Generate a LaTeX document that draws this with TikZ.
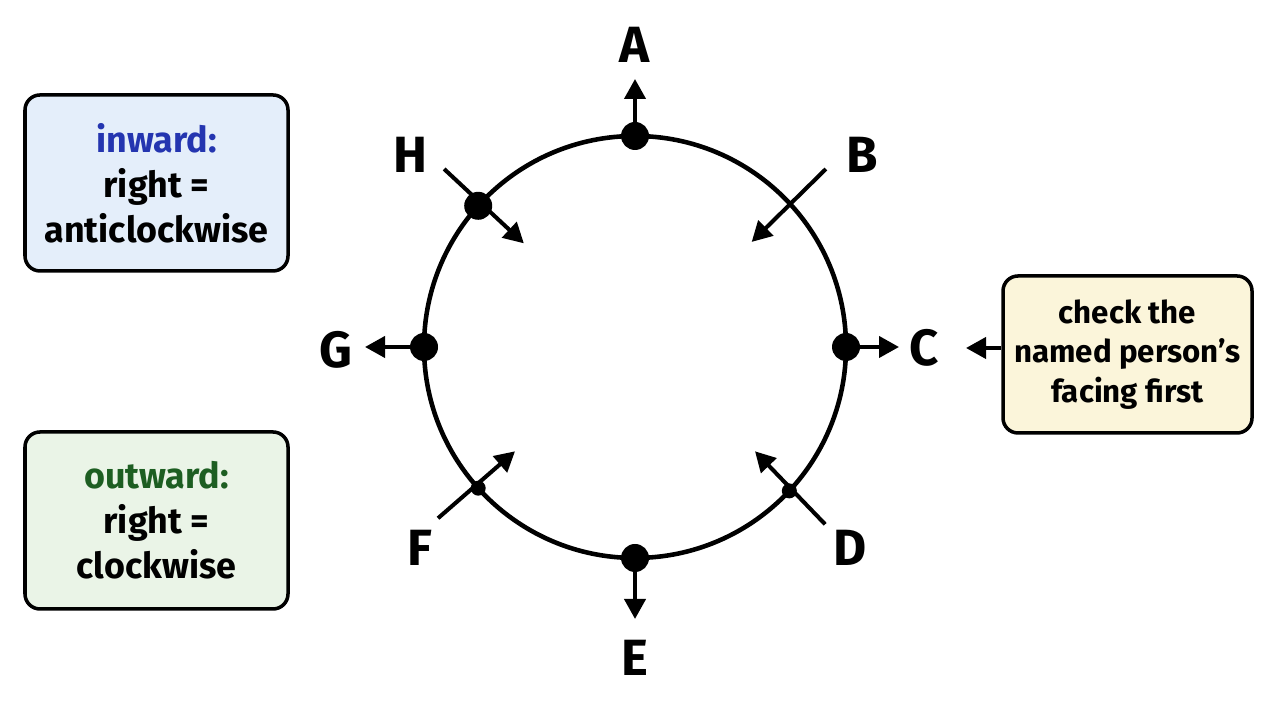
\documentclass[tikz,border=0pt]{standalone}
\usepackage{fontspec}
\setmainfont{Fira Sans}
\usetikzlibrary{arrows.meta}

\definecolor{inblue}{HTML}{2435B0}
\definecolor{outgreen}{HTML}{1D5E22}
\definecolor{boxblue}{HTML}{E4EEFA}
\definecolor{boxgreen}{HTML}{EAF4E7}
\definecolor{boxyellow}{HTML}{FBF5DA}

\begin{document}
\begin{tikzpicture}[
	arr/.style={-{Triangle[length=0.2cm,width=0.21cm]}, line width=1.15pt},
	bigdot/.style={circle, fill=black, inner sep=0pt, minimum size=0.28cm},
	smalldot/.style={circle, fill=black, inner sep=0pt, minimum size=0.15cm},
	lbl/.style={font=\fontsize{14.5}{16}\selectfont\bfseries},
	note/.style={draw, line width=1pt, rounded corners=0.15cm, align=center, inner sep=0pt, font=\fontsize{10.2}{12.8}\selectfont\bfseries}
	]
	\useasboundingbox (0,0) rectangle (12.8,7.2);
	\coordinate (O) at (6.35,3.73);
	\draw[line width=1.3pt] (O) circle (2.11);
	% people round the table
	\node[bigdot] (pA) at ([shift={(90:2.11)}]O) {};
	\coordinate (pB) at ([shift={(45:2.11)}]O);
	\node[bigdot] (pC) at ([shift={(0:2.11)}]O) {};
	\node[smalldot] (pD) at ([shift={(-43:2.11)}]O) {};
	\node[bigdot] (pE) at ([shift={(-90:2.11)}]O) {};
	\node[smalldot] (pF) at ([shift={(222:2.11)}]O) {};
	\node[bigdot] (pG) at ([shift={(180:2.11)}]O) {};
	\node[bigdot] (pH) at ([shift={(138:2.11)}]O) {};
	% facing
	\coordinate (tA) at ([shift={(90:2.68)}]O);
	\coordinate (tC) at ([shift={(0:2.64)}]O);
	\coordinate (tE) at ([shift={(-90:2.72)}]O);
	\coordinate (tG) at ([shift={(180:2.70)}]O);
	\coordinate (oB) at ([shift={(43:2.61)}]O);
	\coordinate (iB) at ([shift={(42:1.57)}]O);
	\coordinate (oD) at ([shift={(-43:2.60)}]O);
	\coordinate (iD) at ([shift={(-41:1.59)}]O);
	\coordinate (oF) at ([shift={(221:2.61)}]O);
	\coordinate (iF) at ([shift={(221:1.59)}]O);
	\coordinate (oH) at ([shift={(137:2.61)}]O);
	\coordinate (iH) at ([shift={(137:1.52)}]O);
	\draw[arr] (pA.center) -- (tA);
	\draw[arr] (pC.center) -- (tC);
	\draw[arr] (pE.center) -- (tE);
	\draw[arr] (pG.center) -- (tG);
	\draw[arr] (oB) -- (iB);
	\draw[arr] (oD) -- (iD);
	\draw[arr] (oF) -- (iF);
	\draw[arr] (oH) -- (iH);
	% names
	\node[lbl] (A) at (6.35,6.75) {A};
	\node[lbl] (B) at (8.62,5.65) {B};
	\node[lbl] (C) at (9.24,3.72) {C};
	\node[lbl] (D) at (8.50,1.72) {D};
	\node[lbl] (E) at (6.35,0.62) {E};
	\node[lbl] (F) at (4.20,1.72) {F};
	\node[lbl] (G) at (3.36,3.70) {G};
	\node[lbl] (H) at (4.10,5.65) {H};
	% rules
	\node[note, fill=boxblue, minimum width=2.63cm, minimum height=1.76cm] (inw) at (1.565,5.37) {{\color{inblue}inward:}\\right =\\anticlockwise};
	\node[note, fill=boxgreen, minimum width=2.63cm, minimum height=1.77cm] (outw) at (1.565,1.995) {{\color{outgreen}outward:}\\right =\\clockwise};
	\node[note, fill=boxyellow, minimum width=2.49cm, minimum height=1.57cm, font=\fontsize{8.9}{11.3}\selectfont\bfseries] (chk) at (11.275,3.655) {check the\\named person’s\\facing first};
	\coordinate (cin) at (9.66,3.72);
	\draw[arr] (chk.west |- cin) -- (cin);
\end{tikzpicture}
\end{document}
